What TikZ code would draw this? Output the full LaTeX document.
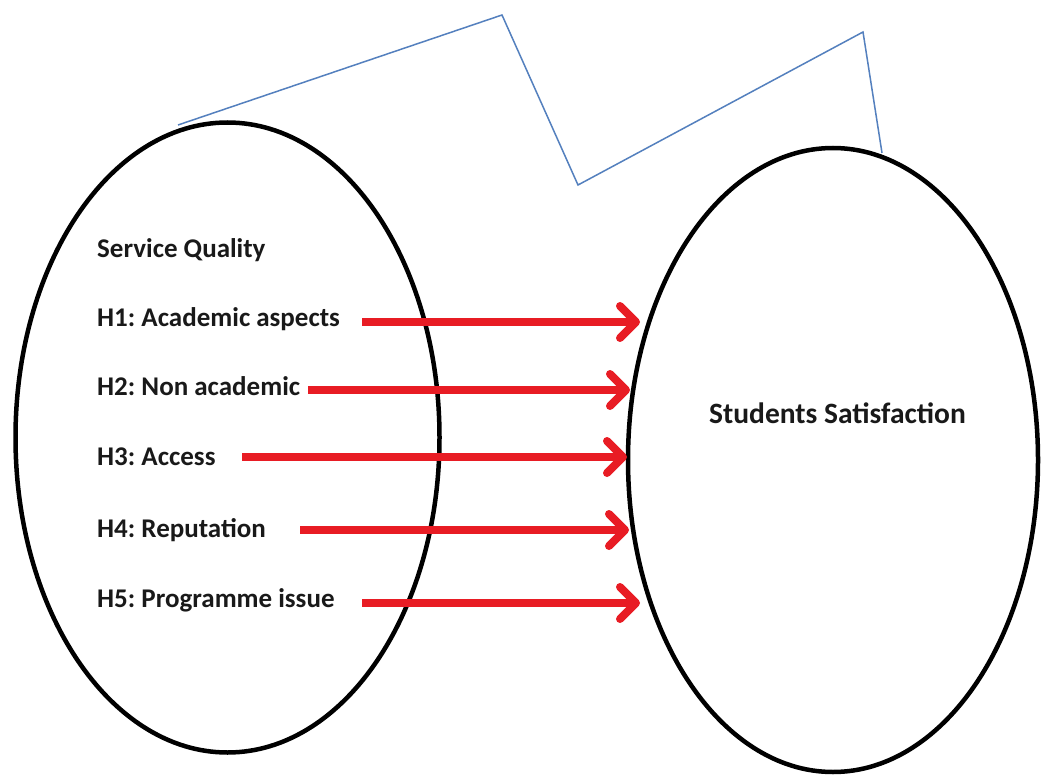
\documentclass[tikz,border=0pt]{standalone}
\usepackage{fontspec}
\setmainfont{Carlito}
\usetikzlibrary{shapes.geometric,arrows.meta}
\definecolor{arrowred}{RGB}{232,28,36}
\definecolor{lineblue}{RGB}{84,128,190}
\frenchspacing
\begin{document}
\begin{tikzpicture}[x=1pt,y=-1pt,
  oval/.style={draw=black,line width=4.5pt,ellipse,inner sep=0pt,outer sep=0pt},
  label/.style={anchor=base west,inner sep=0pt,font=\bfseries\fontsize{27}{31}\selectfont,text=black!90},
  biglabel/.style={label,font=\bfseries\fontsize{29.5}{34}\selectfont},
  link/.style={draw=arrowred,line width=8pt,
    -{Straight Barb[length=16pt,width=32pt,line width=8pt,round]}},
  zigzag/.style={draw=lineblue,line width=1.5pt,line join=miter}]
\useasboundingbox (0,0) rectangle (1041,775);
\fill[white] (0,0) rectangle (1041,775);

% the two constructs
\node[oval,minimum width=424pt,minimum height=630pt] (sq) at (227.5,437.5) {};
\node[oval,minimum width=410pt,minimum height=624pt] (ss) at (833,460) {};

% texts
\node[label] (title) at (97,258) {Service Quality};
\node[label] (h1) at (97,327) {H1: Academic aspects};
\node[label] (h2) at (97,395) {H2: Non academic};
\node[label] (h3) at (97,465) {H3: Access};
\node[label] (h4) at (97,537) {H4: Reputation};
\node[label] (h5) at (97,607) {H5: Programme issue};
\node[biglabel] (sat) at (709,423) {Students Satisfaction};

% arrow ends
\coordinate (s1) at (362,322); \coordinate (e1) at (640,322);
\coordinate (s2) at (308,390); \coordinate (e2) at (630,390);
\coordinate (s3) at (242,457); \coordinate (e3) at (627,457);
\coordinate (s4) at (300,530); \coordinate (e4) at (629,530);
\coordinate (s5) at (362,603); \coordinate (e5) at (640,603);

\foreach \i in {1,...,5} {\draw[link] (s\i) -- (e\i);}

% the blue zigzag line
\coordinate (z0) at (178,125);
\coordinate (z1) at (502,15);
\coordinate (z2) at (578,185);
\coordinate (z3) at (863,32);
\coordinate (z4) at (882,153);
\draw[zigzag] (z0) -- (z1) -- (z2) -- (z3) -- (z4);
\end{tikzpicture}
\end{document}
